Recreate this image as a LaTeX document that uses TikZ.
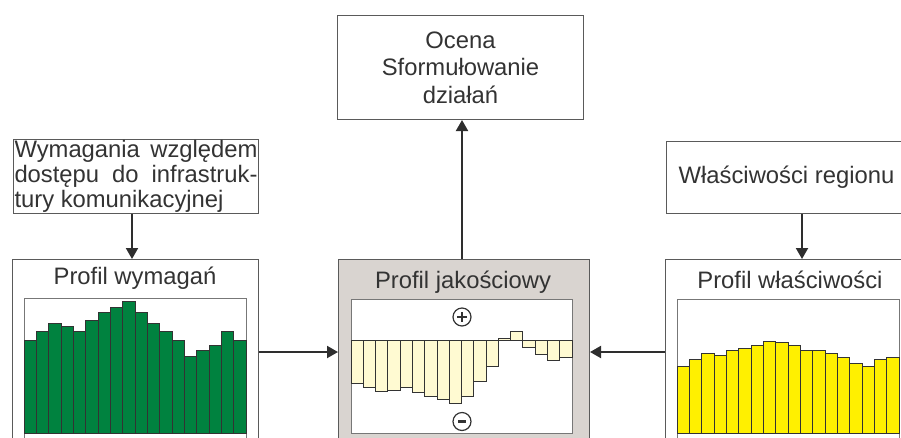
\documentclass[tikz,border=0pt]{standalone}
\usepackage{fontspec}
\setmainfont{Liberation Sans}
\usetikzlibrary{arrows.meta,calc}
\definecolor{txt}{HTML}{333333}
\definecolor{boxgray}{HTML}{5A5A5A}
\definecolor{framegray}{HTML}{777777}
\definecolor{bargray}{HTML}{333333}
\definecolor{arrgray}{HTML}{2E2E2E}
\definecolor{cgray}{HTML}{D9D4D0}
\definecolor{bargreen}{HTML}{00823F}
\definecolor{baryellow}{HTML}{FFF000}
\definecolor{barlight}{HTML}{FFFAD2}
\begin{document}
\begin{tikzpicture}[x=1pt,y=-1pt,
  box/.style={draw=boxgray,line width=1pt,fill=white,inner sep=0pt},
  lbl/.style={text=txt,font=\fontsize{23.8}{25}\selectfont},
  arr/.style={draw=arrgray,line width=2pt,-{Triangle[length=11pt,width=12pt]}},
  bar/.style={draw=bargray,line width=0.9pt},
  chartframe/.style={draw=framegray,fill=white,line width=1pt},
  sign/.style={circle,draw=txt,line width=1.2pt,minimum size=18pt,inner sep=0pt}]
\useasboundingbox (0,0) rectangle (901,437);
\clip (0,0) rectangle (901,437);

% top boxes
\node[box,lbl,align=center,font=\fontsize{23.8}{27.5}\selectfont,minimum width=246pt,minimum height=104pt,anchor=north west] (ocena) at (337,15) {Ocena\\Sformułowanie\\działań};
\node[box,lbl,inner xsep=1pt,text width=243pt,align=justify,minimum height=74pt,anchor=north west] (wym) at (13,139) {Wymagania względem\linebreak dostępu do infrastruk-\linebreak tury komunikacyjnej};
\node[box,lbl,minimum width=240pt,minimum height=72pt,anchor=north west] (wlas) at (666,141) {Właściwości regionu};

% profile boxes
\node[box,minimum width=246pt,minimum height=200pt,anchor=north west] (pw) at (12,259) {};
\node[box,fill=cgray,minimum width=251pt,minimum height=200pt,anchor=north west] (pj) at (338,259) {};
\node[box,minimum width=250pt,minimum height=200pt,anchor=north west] (pwl) at (665,259) {};

\node[lbl] (tpw) at (135,278) {Profil wymagań};
\node[lbl] (tpj) at (463,282) {Profil jakościowy};
\node[lbl] (tpwl) at (790,280) {Profil właściwości};

% chart frames
\draw[chartframe] (24,298) rectangle (246,445);
\draw[chartframe] (351,299) rectangle (572,433);
\draw[chartframe] (677,299) rectangle (899,445);

% left bars
\foreach \h [count=\i from 0] in {340,331.7,323.3,326,331.7,320,312,307.3,301,312,323.3,331.7,340,356,350,345.3,331.7,340}
  \draw[bar,fill=bargreen] ({24+\i*12.333},433) rectangle ({24+(\i+1)*12.333},\h);

% right bars
\foreach \h [count=\i from 0] in {366,359.3,353.3,355.7,350.7,348.3,345.7,341.3,342.7,345.7,350.7,350.7,353.7,357.3,363.7,366.7,359.3,357.3}
  \draw[bar,fill=baryellow] ({677+\i*12.333},433) rectangle ({677+(\i+1)*12.333},\h);

% centre bars
\foreach \h [count=\i from 0] in {383.3,387.3,391.7,390,387.3,392.3,396.7,399,403.3,396.7,381.7,366.7,338.3,331.7,347.7,354.3,360.7,357.3}
  \draw[bar,fill=barlight] ({351+\i*12.28},340) rectangle ({351+(\i+1)*12.28},\h);
\draw[draw=bargray,line width=1pt] (351,340) -- (572,340);

% plus / minus
\node[sign,fill=white] (plus) at (462,317) {};
\draw[txt,line width=2.5pt] ($(plus)+(-5,0)$) -- ($(plus)+(5,0)$) ($(plus)+(0,-5)$) -- ($(plus)+(0,5)$);
\node[sign,fill=white] (minus) at (462,421.5) {};
\draw[txt,line width=3pt] ($(minus)+(-4,0)$) -- ($(minus)+(4,0)$);

% connectors
\coordinate (ax1) at (132,0);
\coordinate (ax2) at (462,0);
\coordinate (ax3) at (802,0);
\coordinate (ay) at (0,352);
\draw[arr] (wym.south -| ax1) -- (pw.north -| ax1);
\draw[arr] (pj.north -| ax2) -- (ocena.south -| ax2);
\draw[arr] (wlas.south -| ax3) -- (pwl.north -| ax3);
\draw[arr] (pw.east |- ay) -- (pj.west |- ay);
\draw[arr] (pwl.west |- ay) -- (pj.east |- ay);
\end{tikzpicture}
\end{document}
